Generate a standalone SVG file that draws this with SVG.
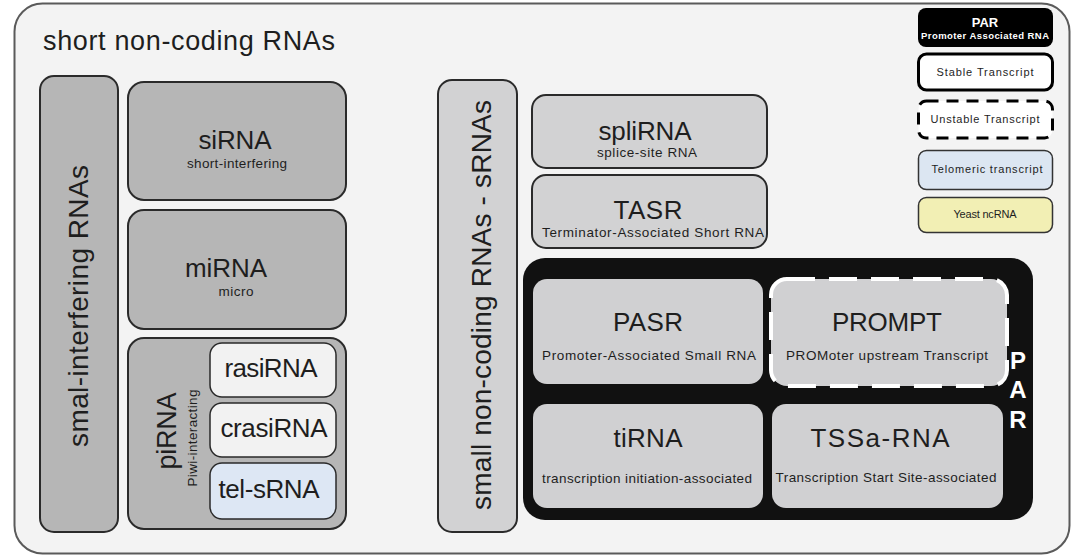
<svg xmlns="http://www.w3.org/2000/svg" width="1073" height="556" viewBox="0 0 1073 556">
<style>
text{font-family:"Liberation Sans",Arial,sans-serif;fill:#1e1e1e;text-anchor:middle}
.dark{fill:#b6b6b6;stroke:#2a2a2a;stroke-width:2}
.light{fill:#d2d2d3;stroke:#2a2a2a;stroke-width:2}
.inner{fill:#d0d0d2;stroke:none}
.big{font-size:26px}
.sub{font-size:13.5px}
.vert{font-size:28px}
.lt{font-size:11px}
.par{font-size:24px;font-weight:bold;fill:#fff}
</style>
<rect width="1073" height="556" fill="#ffffff"/>
<g id="outer">
<rect x="14.5" y="3.5" width="1055" height="550" rx="28" fill="#f3f3f3" stroke="#5a5a5a" stroke-width="2"/>
<text x="43" y="50" style="font-size:27px;text-anchor:start" textLength="292">short non-coding RNAs</text>
</g>
<g id="smal-interfering">
<rect class="dark" x="40" y="76" width="78" height="456" rx="14"/>
<text class="vert" transform="translate(88,306) rotate(-90)" textLength="282">smal-interfering RNAs</text>
</g>
<g id="siRNA">
<rect class="dark" x="128" y="82" width="218" height="118" rx="16"/>
<text class="big" x="235" y="149" textLength="73">siRNA</text>
<text class="sub" x="237" y="168" textLength="100">short-interfering</text>
</g>
<g id="miRNA">
<rect class="dark" x="128" y="210" width="218" height="119" rx="16"/>
<text class="big" x="226" y="277" textLength="82">miRNA</text>
<text class="sub" x="236" y="296" textLength="35">micro</text>
</g>
<g id="piRNA">
<rect class="dark" x="128" y="338" width="218" height="191" rx="16"/>
<text transform="translate(176,431) rotate(-90)" style="font-size:27px" textLength="77">piRNA</text>
<text transform="translate(197,438) rotate(-90)" style="font-size:13.5px" textLength="97">Piwi-interacting</text>
</g>
<g id="rasiRNA">
<rect x="210" y="343" width="126" height="54" rx="12" fill="#f2f2f2" stroke="#2a2a2a" stroke-width="1.5"/>
<text class="big" x="271" y="377" textLength="93">rasiRNA</text>
</g>
<g id="crasiRNA">
<rect x="210" y="403" width="126" height="54" rx="12" fill="#f2f2f2" stroke="#2a2a2a" stroke-width="1.5"/>
<text class="big" x="274" y="437" textLength="107">crasiRNA</text>
</g>
<g id="tel-sRNA">
<rect x="210" y="463" width="126" height="56" rx="12" fill="#dde7f4" stroke="#2a2a2a" stroke-width="1.5"/>
<text class="big" x="269" y="498" textLength="101">tel-sRNA</text>
</g>
<g id="sRNAs">
<rect class="light" x="438" y="80" width="79" height="452" rx="14"/>
<text class="vert" transform="translate(491,305) rotate(-90)" textLength="410">small non-coding RNAs - sRNAs</text>
</g>
<g id="spliRNA">
<rect class="light" x="532" y="95" width="235" height="73" rx="14"/>
<text class="big" x="645" y="140" textLength="93">spliRNA</text>
<text class="sub" x="647" y="157" textLength="100">splice-site RNA</text>
</g>
<g id="TASR">
<rect class="light" x="532" y="175" width="235" height="73" rx="14"/>
<text style="font-size:26px" x="648" y="219" textLength="69">TASR</text>
<text class="sub" x="653" y="237" textLength="222">Terminator-Associated Short RNA</text>
</g>
<g id="PAR">
<rect x="523" y="258" width="510" height="262" rx="22" fill="#111"/>
<text class="par" x="1018" y="369">P</text>
<text class="par" x="1018" y="398">A</text>
<text class="par" x="1018" y="428">R</text>
</g>
<g id="PASR">
<rect class="inner" x="533" y="279" width="230" height="105" rx="14"/>
<text style="font-size:26px" x="648" y="331" textLength="70">PASR</text>
<text class="sub" x="649" y="360" textLength="214">Promoter-Associated Small RNA</text>
</g>
<g id="PROMPT">
<rect x="771" y="279" width="236" height="107" rx="16" fill="#d0d0d2" stroke="#fff" stroke-width="4" stroke-dasharray="28 14"/>
<text style="font-size:26px" x="887" y="331" textLength="110">PROMPT</text>
<text class="sub" x="887" y="360" textLength="202">PROMoter upstream Transcript</text>
</g>
<g id="tiRNA">
<rect class="inner" x="533" y="404" width="230" height="104" rx="14"/>
<text style="font-size:26px" x="648" y="447" textLength="69">tiRNA</text>
<text class="sub" x="647" y="483" textLength="210">transcription initiation-associated</text>
</g>
<g id="TSSa-RNA">
<rect class="inner" x="772" y="404" width="231" height="104" rx="14"/>
<text style="font-size:26px" x="880" y="447" textLength="139">TSSa-RNA</text>
<text class="sub" x="886" y="482" textLength="221">Transcription Start Site-associated</text>
</g>
<g id="legend-PAR">
<rect x="918" y="8" width="135" height="39" rx="8" fill="#000"/>
<text x="985" y="27" style="font-size:13px;font-weight:bold;fill:#fff">PAR</text>
<text x="985" y="39" style="font-size:9.5px;font-weight:bold;fill:#fff" textLength="128">Promoter Associated RNA</text>
</g>
<g id="legend-stable">
<rect x="918.5" y="54" width="134" height="36" rx="8" fill="#fff" stroke="#000" stroke-width="3"/>
<text class="lt" x="985" y="76" textLength="97">Stable Transcript</text>
</g>
<g id="legend-unstable">
<rect x="918.5" y="101" width="134" height="37" rx="8" fill="#fff" stroke="#000" stroke-width="3" stroke-dasharray="12 8"/>
<text class="lt" x="985" y="123" textLength="109">Unstable Transcript</text>
</g>
<g id="legend-telomeric">
<rect x="918.5" y="150.5" width="134" height="39" rx="8" fill="#dce6f2" stroke="#333" stroke-width="1.5"/>
<text class="lt" x="987" y="173" textLength="111">Telomeric transcript</text>
</g>
<g id="legend-yeast">
<rect x="918.5" y="197.5" width="134" height="35" rx="8" fill="#f2efb4" stroke="#333" stroke-width="1.5"/>
<text class="lt" x="985" y="218" textLength="63">Yeast ncRNA</text>
</g>
<g id="connectors"/>
</svg>
